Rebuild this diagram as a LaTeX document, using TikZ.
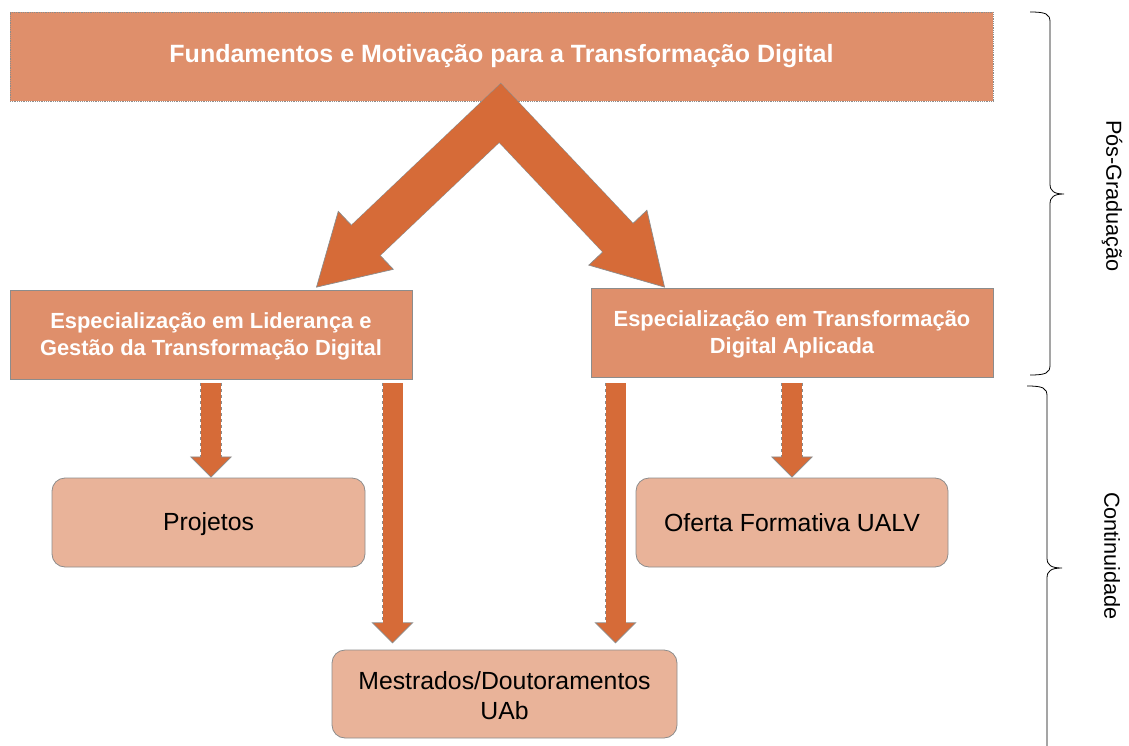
\documentclass[tikz,border=0pt]{standalone}
\usepackage{fontspec}
\setmainfont{Liberation Sans}
\usepackage{xcolor}
\usepackage{tikz}
\usetikzlibrary{arrows.meta,calc}

\definecolor{topc}{RGB}{223,143,107}
\definecolor{arrowc}{RGB}{214,107,56}
\definecolor{softc}{RGB}{233,179,153}
\definecolor{edgec}{RGB}{140,140,140}

\begin{document}
\begin{tikzpicture}[x=1pt,y=-1pt,
	topbox/.style={rectangle,fill=topc,draw=edgec,line width=0.8pt,text=white,align=center,inner sep=0pt},
	softbox/.style={rectangle,rounded corners=13pt,fill=softc,draw=edgec,line width=0.8pt,align=center,inner sep=0pt,
		font=\fontsize{24.8}{30}\selectfont},
	blockarr/.style={arrowc,line width=20pt,
		-{Triangle[width=42pt,length=21pt,line width=0.7pt,color=edgec,fill=arrowc]},
		preaction={draw=edgec,line width=21.4pt,dashed,-,shorten >=19pt},
		postaction={draw=arrowc,line width=20pt,-,shorten >=19pt}},
	bigarr/.style={arrowc,line width=41pt,line join=miter,
		{Triangle[width=81pt,length=69pt,line width=0.7pt,color=edgec,fill=arrowc]}-{Triangle[width=81pt,length=69pt,line width=0.7pt,color=edgec,fill=arrowc]},
		preaction={draw=edgec,line width=42.4pt,-,line join=miter,shorten <=66pt,shorten >=66pt},
		postaction={draw=arrowc,line width=41pt,-,line join=miter,shorten <=66pt,shorten >=66pt}},
	bracket/.style={line width=0.8pt,black},
	side/.style={rotate=-90,font=\fontsize{21.7}{26}\selectfont}]
	\useasboundingbox (0,0) rectangle (1129,746);

	\node[topbox,densely dotted,minimum width=983pt,minimum height=89pt,font=\fontsize{25}{30}\bfseries] (found) at (501.5,56.5)
		{Fundamentos e Motivação para a Transformação Digital};

	\node[topbox,minimum width=402pt,minimum height=89pt,font=\fontsize{21.9}{27}\bfseries] (lead) at (211,334.5)
		{\rule{0pt}{19pt}Especialização em Liderança e\\Gestão da Transformação Digital};
	\node[topbox,minimum width=402pt,minimum height=89pt,font=\fontsize{21.9}{27}\bfseries] (aplic) at (792,332.5)
		{\rule{0pt}{19pt}Especialização em Transformação\\Digital Aplicada};

	\node[softbox,minimum width=313pt,minimum height=89pt] (proj) at (208.5,522.5) {\rule{0pt}{21pt}Projetos};
	\node[softbox,minimum width=312pt,minimum height=89pt] (ofer) at (792,522.5) {Oferta Formativa UALV};
	\node[softbox,minimum width=345pt,minimum height=88pt] (mest) at (504.5,694) {\rule{0pt}{21pt}Mestrados/Doutoramentos\\UAb};

	% chevron from the top box to both courses
	\coordinate (apex) at ($(found.south)+(-1.5,11.5)$);
	\draw[bigarr] ($(lead.north)+(105,-2)$) -- (apex) -- ($(aplic.north)+(-127,0)$);

	% continuation arrows
	\draw[blockarr] ($(lead.south)+(0,4)$) -- (lead.south |- proj.north);
	\draw[blockarr] ($(lead.south)+(181.5,4)$) -- ($(lead.south -| mest.north)+(-112,264)$);
	\draw[blockarr] ($(aplic.south)+(-176.5,6)$) -- ($(lead.south -| mest.north)+(111,264)$);
	\draw[blockarr] ($(aplic.south)+(0,6)$) -- (aplic.south |- ofer.north);

	% braces
	\draw[bracket] (1030,12) .. controls (1046,12) and (1050,14) .. (1050,22) -- (1050,184)
		.. controls (1050,191) and (1054,194) .. (1064,194)
		.. controls (1054,194) and (1050,197) .. (1050,204) -- (1050,365)
		.. controls (1050,373) and (1046,375) .. (1030,375);
	\draw[bracket] (1027,386) .. controls (1043,386) and (1047,388) .. (1047,396) -- (1047,558)
		.. controls (1047,565) and (1051,568) .. (1062,568)
		.. controls (1051,568) and (1047,571) .. (1047,578) -- (1047,746);

	\node[side] (pos) at (1112,196) {Pós-Graduação};
	\node[side] (cont) at (1112,556) {Continuidade};
\end{tikzpicture}
\end{document}
